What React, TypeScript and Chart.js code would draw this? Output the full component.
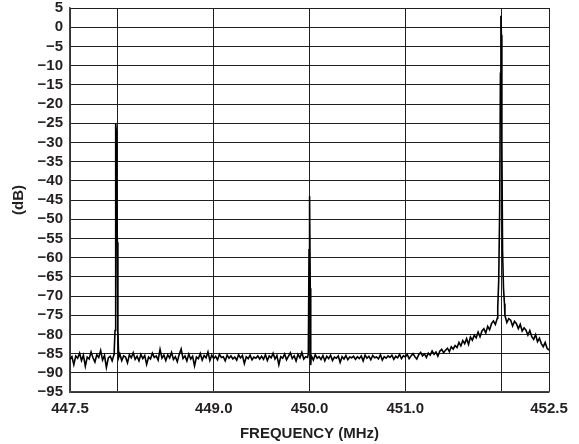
import React, { useEffect, useRef } from "react";
import { Chart, registerables } from "chart.js";

Chart.register(...registerables);

// Sweep of the analyzer trace: evenly spaced bins from 447.5 MHz, 0.02 MHz apart
const sweepStartMHz = 447.5;
const sweepStepMHz = 0.02;

// Noise-floor / skirt trace (dB), one value per bin, 447.50 ... 452.50 MHz
const floorTraceDb: number[] = [
  // 447.50 - 447.98
  -86.5, -85.8, -87.9, -85.6, -86.2,
  -84.9, -86.8, -85.4, -88.3, -85.9,
  -86.4, -84.6, -86.1, -87.2, -85.3,
  -86.0, -84.2, -86.7, -85.5, -88.6,
  -86.1, -85.7, -86.9, -85.2, -84.5,
  // 448.00 - 448.48
  -86.2, -85.1, -86.8, -85.6, -85.9,
  -87.4, -85.3, -86.1, -84.8, -86.5,
  -85.7, -86.9, -85.2, -86.3, -85.5,
  -87.8, -85.9, -86.4, -84.9, -86.0,
  -85.6, -86.7, -83.9, -86.2, -85.4,
  // 448.50 - 448.98
  -86.8, -85.3, -86.1, -84.7, -86.5,
  -85.8, -87.1, -85.2, -83.8, -86.3,
  -85.6, -86.9, -85.1, -86.4, -85.7,
  -88.2, -85.9, -86.3, -85.0, -86.7,
  -85.5, -86.1, -84.6, -86.8, -85.4,
  // 449.00 - 449.48
  -86.3, -85.7, -86.6, -85.2, -86.0,
  -85.8, -86.9, -85.4, -86.2, -85.6,
  -86.4, -85.9, -86.7, -85.3, -86.1,
  -85.5, -87.6, -85.8, -86.3, -85.4,
  -86.6, -85.9, -86.2, -85.6, -86.4,
  // 449.50 - 449.98
  -85.7, -86.5, -85.3, -86.8, -85.6,
  -86.1, -84.9, -86.4, -85.5, -87.9,
  -85.8, -86.2, -85.1, -86.6, -85.7,
  -84.8, -86.3, -85.6, -86.9, -85.2,
  -86.1, -84.7, -86.4, -85.8, -86.0,
  // 450.00 - 450.48
  -86.1, -85.6, -86.7, -85.3, -86.2,
  -85.8, -86.5, -85.5, -86.9, -85.7,
  -86.3, -85.4, -86.8, -85.9, -86.2,
  -85.6, -87.3, -85.8, -86.4, -85.5,
  -86.6, -85.9, -86.1, -85.7, -86.5,
  // 450.50 - 450.98
  -85.8, -86.3, -85.6, -86.9, -85.4,
  -86.2, -85.7, -86.6, -85.5, -86.1,
  -85.9, -86.4, -85.3, -86.7, -85.8,
  -86.2, -85.6, -86.0, -85.4, -86.5,
  -85.7, -86.1, -85.2, -86.3, -85.6,
  // 451.00 - 451.48
  -85.9, -85.2, -86.3, -85.6, -85.0,
  -85.8, -86.4, -85.3, -84.7, -85.6,
  -85.1, -86.0, -84.9, -85.4, -84.3,
  -85.2, -84.6, -85.7, -84.4, -83.9,
  -84.8, -84.1, -83.6, -84.5, -83.2,
  // 451.50 - 451.98
  -83.8, -82.9, -83.4, -82.1, -83.0,
  -81.6, -82.4, -81.1, -82.6, -80.7,
  -81.5, -80.2, -80.9, -79.4, -80.6,
  -79.1, -78.5, -79.6, -77.9, -78.8,
  -77.2, -76.5, -77.4, -75.8, -74.6,
  // 452.00 - 452.50
  -74.2, -75.8, -75.1, -76.9, -75.9,
  -76.3, -77.8, -76.6, -77.2, -78.5,
  -77.4, -79.1, -78.3, -78.9, -80.2,
  -79.0, -80.6, -81.3, -80.1, -81.9,
  -81.0, -82.4, -83.2, -82.1, -83.6,
  -84.1,
];

// Carrier tones (finely resolved points around each peak)
const carrier1FreqMHz = [447.962, 447.970, 447.975, 447.979, 447.983, 447.988, 447.994, 448.000, 448.008];
const carrier1Db = [-84, -79, -40, -25, -27, -44, -56, -79, -86];

const carrier2FreqMHz = [449.988, 449.995, 449.999, 450.003, 450.008, 450.013, 450.017];
const carrier2Db = [-85, -58, -44, -45, -68, -88, -86];

const carrier3FreqMHz = [451.965, 451.975, 451.985, 451.993, 451.998, 452.003, 452.008, 452.015, 452.025, 452.035];
const carrier3Db = [-73, -66, -48, -12, 3, -2, -30, -58, -68, -72];

// Axis ticks
const xTickValues = [447.5, 448, 449, 450, 451, 452, 452.5];
const xTickLabels = ["447.5", "", "449.0", "450.0", "451.0", "", "452.5"];
const yMin = -95;
const yMax = 5;
const yStep = 5;

const xTitle = "FREQUENCY (MHz)";
const yTitle = "(dB)";

function buildTrace() {
  const carriers = [
    { f: carrier1FreqMHz, d: carrier1Db },
    { f: carrier2FreqMHz, d: carrier2Db },
    { f: carrier3FreqMHz, d: carrier3Db },
  ];
  const pts: { x: number; y: number }[] = [];
  floorTraceDb.forEach((v, i) => {
    const x = +(sweepStartMHz + i * sweepStepMHz).toFixed(3);
    const inside = carriers.some(
      (c) => x > c.f[0] && x < c.f[c.f.length - 1]
    );
    if (!inside) pts.push({ x, y: v });
  });
  carriers.forEach((c) => c.f.forEach((f, i) => pts.push({ x: f, y: c.d[i] })));
  pts.sort((a, b) => a.x - b.x);
  return pts;
}

const FONT = "'Liberation Sans', Arial, Helvetica, sans-serif";
const INK = "#231f20";

export default function App() {
  const ref = useRef<HTMLCanvasElement | null>(null);

  useEffect(() => {
    document.body.style.margin = "0";
    const canvas = ref.current;
    if (!canvas) return;
    const chart = new Chart(canvas, {
      type: "line",
      data: {
        datasets: [
          {
            data: buildTrace(),
            borderColor: "#000",
            borderWidth: 1.6,
            pointRadius: 0,
            tension: 0,
            fill: false,
          },
        ],
      },
      options: {
        animation: false,
        responsive: false,
        parsing: false as any,
        layout: { padding: { left: 0, right: 30, top: 8, bottom: 0 } },
        plugins: {
          legend: { display: false },
          tooltip: { enabled: false },
        },
        scales: {
          x: {
            type: "linear",
            min: 447.5,
            max: 452.5,
            afterBuildTicks: (scale: any) => {
              scale.ticks = xTickValues.map((v) => ({ value: v }));
            },
            afterFit: (scale: any) => {
              scale.height = 52;
              scale.paddingLeft = 0;
              scale.paddingRight = 0;
            },
            grid: { color: INK, lineWidth: 1, drawTicks: false },
            border: { color: "#444", width: 1.5 },
            ticks: {
              autoSkip: false,
              maxRotation: 0,
              padding: 8,
              color: INK,
              font: { family: FONT, size: 15, weight: "bold" },
              callback: (v: any) => {
                const idx = xTickValues.findIndex((t) => Math.abs(t - Number(v)) < 1e-6);
                return idx >= 0 ? xTickLabels[idx] : "";
              },
            },
            title: {
              display: true,
              text: xTitle,
              color: INK,
              font: { family: FONT, size: 15, weight: "bold" },
              padding: { top: 0, bottom: 1 },
            },
          },
          y: {
            type: "linear",
            min: yMin,
            max: yMax,
            afterFit: (scale: any) => {
              scale.width = 70;
              scale.paddingTop = 0;
              scale.paddingBottom = 0;
            },
            grid: { color: INK, lineWidth: 1, drawTicks: false },
            border: { color: "#444", width: 1.5 },
            ticks: {
              stepSize: yStep,
              autoSkip: false,
              padding: 7,
              color: INK,
              font: { family: FONT, size: 15, weight: "bold" },
              callback: (v: any) => {
                const n = Number(v);
                return n < 0 ? "\u2212" + Math.abs(n) : String(n);
              },
            },
            title: {
              display: true,
              text: yTitle,
              color: INK,
              font: { family: FONT, size: 15, weight: "bold" },
              padding: { top: 10, bottom: 0 },
            },
          },
        },
      },
    });
    return () => chart.destroy();
  }, []);

  return (
    <div style={{ width: 579, height: 444, background: "#fff" }}>
      <canvas ref={ref} width={579} height={444} />
    </div>
  );
}
